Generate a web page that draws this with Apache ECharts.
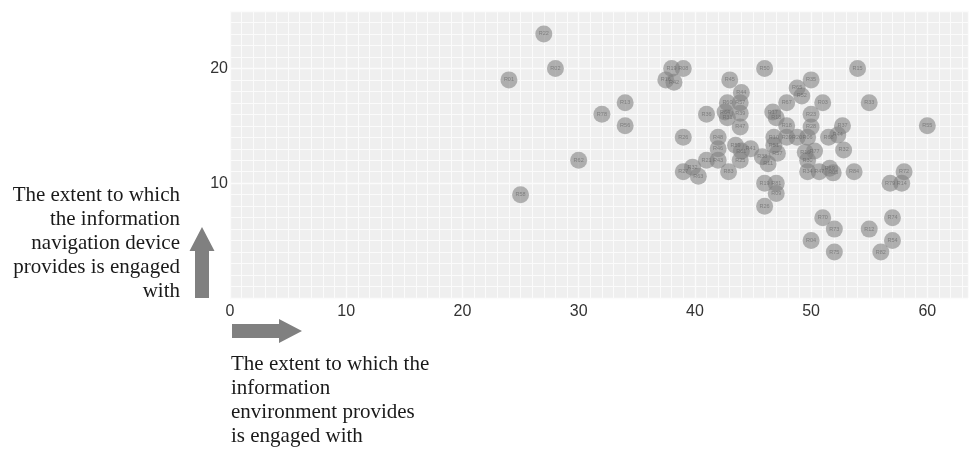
<!DOCTYPE html>
<html>
<head>
<meta charset="utf-8">
<script src="https://cdn.jsdelivr.net/npm/echarts@6/dist/echarts.min.js"></script>
<style>html,body{margin:0;padding:0;background:#fff}#c{width:971px;height:450px}</style>
</head>
<body>
<div id="c"></div>
<script>
const labels = ["R22","R01","R02","R78","R13","R56","R62","R58","R19","R08","R16","R42","R50","R15","R45","R35","R44","R65","R52","R67","R03","R33","R60","R57","R64","R39","R31","R47","R36","R26","R48","R46","R21","R43","R27","R32","R63","R83","R59","R61","R41","R25","R38","R11","R17","R18","R18","R23","R28","R37","R10","R29","R20","R06","R68","R44","R51","R57","R16","R77","R32","R30","R34","R47","R69","R05","R84","R72","R79","R14","R55","R19","R81","R09","R26","R70","R73","R12","R74","R54","R04","R75","R82"];
const xs = [27,24,28,32,34,34,30,25,38,39,37.5,38.2,46,54,43,50,44,48.8,49.2,47.9,51,55,42.8,43.9,42.6,43.9,42.8,43.9,41,39,42,42,41,42,39,39.8,40.3,42.9,43.5,44,44.8,43.9,45.8,46.3,46.7,47,47.9,50,50,52.7,46.8,47.9,48.8,49.7,51.5,52.3,46.8,47.1,49.5,50.3,52.8,49.7,49.7,50.7,51.6,51.9,53.7,58,56.8,57.8,60,46,47,47,46,51,52,55,57,57,50,52,56];
const ys = [23,19,20,16,17,15,12,9,20,20,19,18.8,20,20,19,19,17.9,18.3,17.6,17,17,17,17,17,16.2,16.1,15.7,14.9,16,14,14,13,12,12,11,11.4,10.6,11,13.3,12.8,13,12,12.3,11.7,16.2,15.7,15,16,14.9,15,14,14,14,14,14,14.2,13.3,12.6,12.7,12.8,12.9,12,11,11,11.3,10.9,11,11,10,10,15,10,10,9.1,8,7,6,6,7,5,5,4,4];
const xTicks = [0,10,20,30,40,50,60];
const yTicks = [10,20];

const pts = xs.map((x,i)=>({name:labels[i], value:[x, ys[i]]}));
const chart = echarts.init(document.getElementById('c'), null, {renderer:'canvas'});
const serif = '"Liberation Serif","Times New Roman",serif';
const leftLines = ["The extent to which","the information","navigation device","provides is engaged","with"];
const bottomLines = ["The extent to which the","information","environment provides","is engaged with"];
const graphics = [];
leftLines.forEach((t,i)=>graphics.push({type:'text', style:{text:t, x:180, y:195+i*24, textAlign:'right', textVerticalAlign:'middle', font:'21px '+serif, fill:'#1a1a1a'}}));
bottomLines.forEach((t,i)=>graphics.push({type:'text', style:{text:t, x:231, y:364+i*24.3, textAlign:'left', textVerticalAlign:'middle', font:'21px '+serif, fill:'#1a1a1a'}}));
graphics.push({type:'polygon', shape:{points:[[195,298],[209,298],[209,251],[214.5,251],[202,227],[189.5,251],[195,251]]}, style:{fill:'#808080'}});
graphics.push({type:'polygon', shape:{points:[[232,324],[279,324],[279,319],[302,331],[279,343],[279,338],[232,338]]}, style:{fill:'#808080'}});

chart.setOption({
  animation:false,
  backgroundColor:'#fff',
  grid:{left:230, right:3, top:11, bottom:152, show:true, backgroundColor:'#efefef', borderWidth:0},
  xAxis:{type:'value', min:0, max:63.5, interval:10,
    axisLine:{show:false}, axisTick:{show:false},
    axisLabel:{show:true, margin:6, fontSize:16, color:'#333', fontFamily:'"Liberation Sans",Arial,sans-serif',
      formatter:v=>xTicks.includes(v)?String(v):''},
    splitLine:{show:true, lineStyle:{color:'#fbfbfb', width:1.3}},
    minorTick:{show:false, splitNumber:10},
    minorSplitLine:{show:true, lineStyle:{color:'#fbfbfb', width:1}}},
  yAxis:{type:'value', min:0, max:25, interval:10,
    axisLine:{show:false}, axisTick:{show:false},
    axisLabel:{show:true, margin:2, fontSize:16, color:'#333', fontFamily:'"Liberation Sans",Arial,sans-serif',
      formatter:v=>yTicks.includes(v)?String(v):''},
    splitLine:{show:true, lineStyle:{color:'#fbfbfb', width:1.3}},
    minorTick:{show:false, splitNumber:10},
    minorSplitLine:{show:true, lineStyle:{color:'#fbfbfb', width:1}}},
  series:[{type:'scatter', data:pts, symbol:'circle', symbolSize:17,
    itemStyle:{color:'#7f7f7f', opacity:0.58},
    label:{show:true, position:'inside', formatter:p=>p.name, fontSize:5.5, color:'#5a5a5a', fontFamily:'"Liberation Sans",Arial,sans-serif'}}],
  graphic:graphics
});
</script>
</body>
</html>
